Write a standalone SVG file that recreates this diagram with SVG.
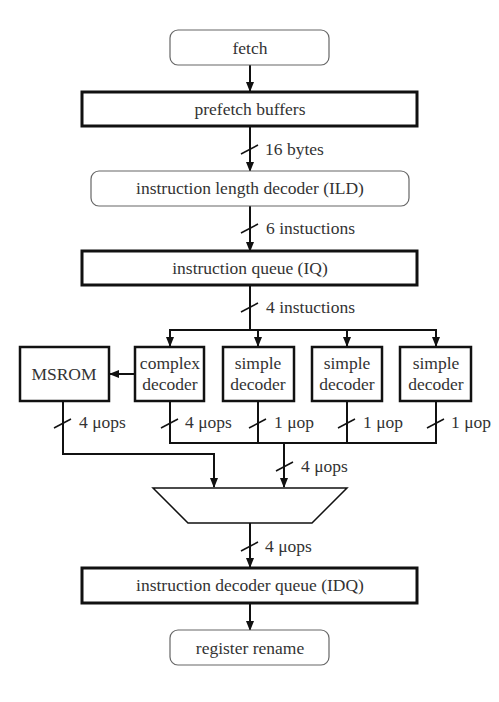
<svg xmlns="http://www.w3.org/2000/svg" width="499" height="702" viewBox="0 0 499 702">
<defs>
<marker id="ah" markerWidth="10" markerHeight="8" refX="9" refY="4" orient="auto" markerUnits="userSpaceOnUse">
<path d="M0,0 L10,4 L0,8 z" fill="#111"/>
</marker>
<style>
text{font-family:"Liberation Serif","Times New Roman",serif;font-size:17.5px;fill:#333;text-anchor:middle}
.lbl{text-anchor:start}
.round{fill:#fff;stroke:#666;stroke-width:1.2}
.thick{fill:#fff;stroke:#111;stroke-width:3}
.dec{fill:#fff;stroke:#111;stroke-width:2.5}
.ln{fill:none;stroke:#111;stroke-width:2}
.sl{fill:none;stroke:#111;stroke-width:1.5}
</style>
</defs>
<rect width="499" height="702" fill="#fff"/>
<g id="connectors">
<line class="ln" x1="250" y1="65" x2="250" y2="91" marker-end="url(#ah)"/>
<line class="ln" x1="250" y1="127" x2="250" y2="171" marker-end="url(#ah)"/>
<line class="sl" x1="241" y1="154" x2="258" y2="145"/>
<line class="ln" x1="250" y1="206" x2="250" y2="251" marker-end="url(#ah)"/>
<line class="sl" x1="241" y1="233" x2="258" y2="224"/>
<line class="ln" x1="250" y1="286" x2="250" y2="330"/>
<line class="sl" x1="241" y1="312" x2="258" y2="303"/>
<polyline class="ln" points="170,346 170,330 436,330 436,346" marker-end="url(#ah)"/>
<line class="ln" x1="170" y1="330" x2="170" y2="346" marker-end="url(#ah)"/>
<line class="ln" x1="258" y1="330" x2="258" y2="346" marker-end="url(#ah)"/>
<line class="ln" x1="347" y1="330" x2="347" y2="346" marker-end="url(#ah)"/>
<line class="ln" x1="134" y1="374" x2="110" y2="374" marker-end="url(#ah)"/>
<polyline class="ln" points="63,401 63,454 214,454 214,487" marker-end="url(#ah)"/>
<line class="sl" x1="54" y1="428" x2="71" y2="419"/>
<polyline class="ln" points="170,401 170,443 436,443 436,401"/>
<line class="ln" x1="258" y1="401" x2="258" y2="443"/>
<line class="ln" x1="347" y1="401" x2="347" y2="443"/>
<line class="sl" x1="161" y1="428" x2="178" y2="419"/>
<line class="sl" x1="249" y1="428" x2="266" y2="419"/>
<line class="sl" x1="338" y1="428" x2="355" y2="419"/>
<line class="sl" x1="427" y1="428" x2="444" y2="419"/>
<line class="ln" x1="284" y1="443" x2="284" y2="487" marker-end="url(#ah)"/>
<line class="sl" x1="276" y1="471" x2="293" y2="462"/>
<line class="ln" x1="250" y1="523" x2="250" y2="567" marker-end="url(#ah)"/>
<line class="sl" x1="241" y1="551" x2="258" y2="542"/>
<line class="ln" x1="250" y1="604" x2="250" y2="630" marker-end="url(#ah)"/>
<text class="lbl" x="265" y="155">16 bytes</text>
<text class="lbl" x="266" y="234">6 instuctions</text>
<text class="lbl" x="266" y="313">4 instuctions</text>
<text class="lbl" x="79" y="428">4 μops</text>
<text class="lbl" x="185" y="428">4 μops</text>
<text class="lbl" x="274" y="428">1 μop</text>
<text class="lbl" x="363" y="428">1 μop</text>
<text class="lbl" x="451" y="428">1 μop</text>
<text class="lbl" x="301" y="472">4 μops</text>
<text class="lbl" x="265" y="552">4 μops</text>
</g>
<g id="fetch"><rect class="round" x="170" y="30" width="159" height="35" rx="8"/><text x="250" y="54">fetch</text></g>
<g id="prefetch"><rect class="thick" x="82" y="92" width="335" height="34"/><text x="250" y="115">prefetch buffers</text></g>
<g id="ild"><rect class="round" x="91" y="171" width="318" height="35" rx="8"/><text x="250" y="194">instruction length decoder (ILD)</text></g>
<g id="iq"><rect class="thick" x="82" y="251" width="335" height="34"/><text x="250" y="274">instruction queue (IQ)</text></g>
<g id="msrom"><rect class="dec" x="20" y="347" width="89" height="54"/><text x="64" y="380">MSROM</text></g>
<g id="complex"><rect class="dec" x="135" y="347" width="69" height="54"/><text x="170" y="369">complex</text><text x="170" y="390">decoder</text></g>
<g id="simple1"><rect class="dec" x="223" y="347" width="71" height="54"/><text x="258" y="369">simple</text><text x="258" y="390">decoder</text></g>
<g id="simple2"><rect class="dec" x="312" y="347" width="70" height="54"/><text x="347" y="369">simple</text><text x="347" y="390">decoder</text></g>
<g id="simple3"><rect class="dec" x="400" y="347" width="71" height="54"/><text x="436" y="369">simple</text><text x="436" y="390">decoder</text></g>
<g id="mux"><polygon points="153,488 347,488 312,523 188,523" fill="#fff" stroke="#111" stroke-width="1.5"/></g>
<g id="idq"><rect class="thick" x="82" y="568" width="335" height="35"/><text x="250" y="591">instruction decoder queue (IDQ)</text></g>
<g id="rename"><rect class="round" x="170" y="630" width="159" height="35" rx="8"/><text x="250" y="654">register rename</text></g>
</svg>
